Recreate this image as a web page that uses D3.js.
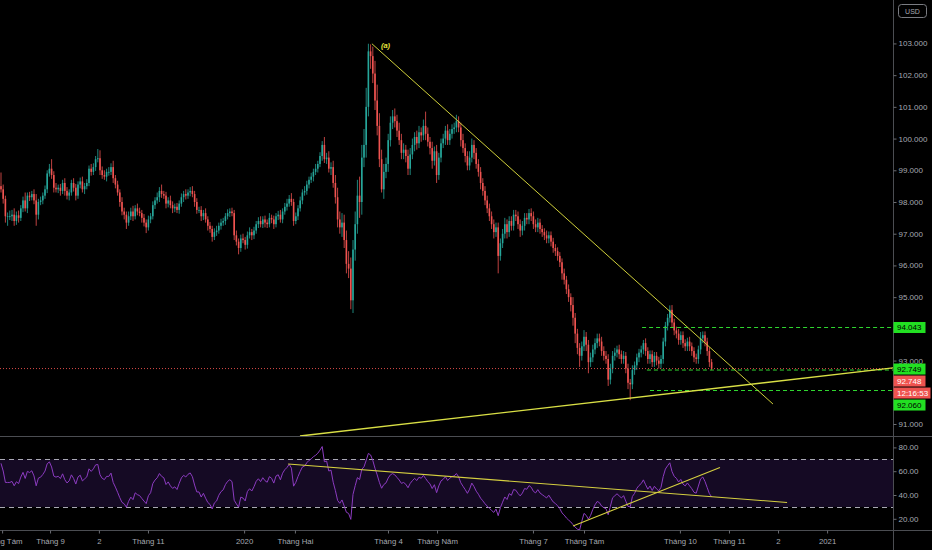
<!DOCTYPE html>
<html><head><meta charset="utf-8">
<script src="https://cdn.jsdelivr.net/npm/d3@7"></script>
<style>html,body{margin:0;padding:0;background:#000;overflow:hidden}svg{display:block}</style>
</head><body>
<svg id="c" width="932" height="550"></svg>
<script>
// ---- DATA (daily DXY) ----
const warmupCloses = [96.90,97.20,97.60,97.55,97.40,97.00,96.60,96.20,96.30,96.15,
  96.85,96.80,96.78,97.28,97.35,97.50,97.10,96.80,96.82,96.88,
  97.20,97.00,96.85,97.12,97.30,97.70,97.72,97.80,98.00,98.02,97.90,98.50];
const closes = [
  98.40,98.10,97.55,97.55,97.55,97.60,97.40,97.58,97.50,97.80,
  98.05,97.80,98.20,98.15,98.25,98.05,97.60,98.00,98.05,98.20,
  98.40,98.90,99.05,98.85,98.45,98.40,98.45,98.35,98.60,98.35,
  98.20,98.30,98.60,98.45,98.20,98.55,98.65,98.40,98.50,98.60,
  99.05,98.95,99.10,99.35,99.38,99.00,98.85,98.80,98.95,98.95,
  99.10,98.75,98.55,98.30,98.00,97.70,97.60,97.35,97.55,97.70,
  97.55,97.80,97.70,97.65,97.50,97.35,97.20,97.45,97.55,97.90,
  98.05,98.15,98.35,98.25,98.20,97.95,98.05,97.90,97.80,97.85,
  97.75,97.95,98.15,98.25,98.20,98.30,98.35,98.25,98.00,97.75,
  97.75,97.55,97.65,97.45,97.25,97.15,96.90,97.05,97.10,97.25,
  97.35,97.40,97.55,97.65,97.70,97.65,96.95,96.75,96.55,96.85,
  96.80,96.65,96.95,97.05,96.95,97.10,97.30,97.40,97.30,97.45,
  97.35,97.30,97.50,97.45,97.30,97.55,97.60,97.45,97.70,97.85,
  97.95,98.10,98.00,97.40,97.55,97.80,98.05,98.30,98.35,98.55,
  98.70,98.80,98.95,99.05,99.20,99.45,99.80,99.35,99.40,99.05,
  99.10,98.60,98.15,97.45,97.20,97.35,96.80,96.05,95.90,94.90,
  96.50,97.30,98.20,98.00,99.40,99.80,101.00,102.75,102.60,102.05,
  101.20,100.40,99.35,98.40,98.95,99.20,99.95,100.50,100.70,100.55,
  100.25,99.95,99.55,99.65,99.45,99.05,99.50,99.80,100.05,99.85,
  100.20,100.10,100.40,100.15,99.90,99.70,99.30,99.60,98.85,99.40,
  99.85,100.00,100.25,99.95,100.15,100.30,100.35,100.55,100.35,99.95,
  99.70,99.45,99.15,99.40,99.80,99.55,99.20,98.95,98.60,98.35,
  98.05,97.80,97.55,97.30,97.05,97.20,96.30,96.70,97.00,97.30,
  97.05,97.40,97.25,97.60,97.55,97.30,97.10,97.25,97.50,97.45,
  97.65,97.55,97.30,97.20,97.35,97.15,97.05,96.95,96.85,96.95,
  96.75,96.55,96.45,96.30,96.10,95.75,95.55,95.25,95.00,94.75,
  94.35,93.85,93.40,93.15,93.45,93.75,93.50,92.95,93.10,93.35,
  93.55,93.70,93.60,93.30,93.15,93.05,92.40,92.75,93.15,93.25,
  93.35,93.20,93.05,93.15,92.75,92.30,92.25,92.70,92.85,93.10,
  93.25,93.35,93.55,93.30,93.05,93.20,92.95,93.15,93.00,92.90,
  93.05,93.60,94.10,94.35,94.60,94.20,93.95,93.85,93.65,93.80,
  93.55,93.45,93.60,93.45,93.30,93.10,93.05,93.35,93.70,93.80,
  93.60,93.30,92.95,92.748];
// upper / lower wick length beyond the body, in hundredths
const hiWick = [
  43,15,10,12,18,15,20,12,15,10, 12,25,10,12,10,15,20,10,12,10,
  12,10,15,30,12,15,10,12,10,15, 12,10,10,15,12,10,12,15,10,12,
  10,15,12,10,29,25,12,15,10,15, 12,20,10,12,10,15,12,10,15,12,
  18,10,15,12,10,12,10,12,10,12, 10,15,12,20,10,12,10,15,12,10,
  12,10,12,10,15,10,12,15,10,12, 10,12,10,15,10,12,10,12,15,10,
  12,10,10,12,10,12,10,15,10,12, 15,10,12,15,10,12,10,12,15,10,
  12,10,15,10,12,10,12,15,10,12, 15,12,18,10,12,10,12,10,15,12,
  10,12,10,15,10,12,12,25,15,20, 15,20,25,30,25,30,25,30,40,35,
  30,40,50,60,40,50,60,24,22,30, 40,50,40,30,25,20,20,20,20,25,
  20,25,20,20,15,20,20,20,15,20, 20,15,20,45,20,15,20,15,20,15,
  15,15,15,20,15,15,15,20,15,15, 20,15,15,20,20,15,15,15,15,15,
  15,15,15,15,15,15,15,15,15,20, 15,15,15,15,15,15,15,15,15,15,
  13,15,15,15,15,12,12,12,15,12, 12,12,12,12,12,12,15,12,15,12,
  25,15,15,15,15,21,15,15,15,15, 15,15,15,15,15,15,15,15,15,15,
  12,15,12,15,12,15,12,15,12,12, 12,12,10,15,12,12,12,12,12,12,
  12,12,12,12,14,15,12,12,15,12, 12,12,12,15,12,12,12,12,20,12,
  12,12,12,10];
const loWick = [
  10,15,20,30,12,15,15,12,15,10, 12,10,15,12,10,12,35,15,10,12,
  10,12,10,12,15,10,12,15,10,15, 12,15,10,12,15,10,12,10,15,10,
  10,12,10,12,10,15,12,10,15,12, 10,15,12,10,15,12,15,20,10,12,
  15,10,12,10,15,12,18,10,12,10, 12,10,15,12,10,15,12,10,15,12,
  10,12,10,15,12,10,12,10,15,12, 10,15,12,10,15,12,15,10,12,10,
  12,10,12,10,12,10,15,12,20,12, 10,15,12,10,15,12,10,12,10,12,
  15,12,10,12,15,10,12,10,12,10, 12,10,12,15,10,12,10,12,10,12,
  12,10,15,10,12,10,15,12,15,12, 20,15,20,25,20,30,25,30,30,28,
  40,35,30,50,40,30,40,30,40,30, 30,30,25,10,30,20,25,20,20,20,
  20,15,20,20,20,20,20,15,20,20, 15,20,15,20,15,20,25,15,25,15,
  15,15,20,15,15,15,15,15,15,20, 15,20,15,15,15,20,15,15,20,15,
  15,15,15,15,20,15,55,15,15,15, 20,15,15,15,15,15,20,15,15,15,
  15,15,15,15,15,15,15,15,15,15, 15,15,15,15,15,20,15,15,15,20,
  25,30,20,35,15,15,20,35,15,15, 15,15,15,15,15,15,20,15,15,15,
  15,15,15,15,15,20,50,15,15,15, 15,15,15,15,15,15,15,15,15,15,
  15,15,15,15,15,15,15,15,15,15, 15,15,15,15,15,15,15,15,15,15,
  15,15,15,5];

// price labels that stay visible (92 sits under the price tags, 104 under the USD box)
const priceTicks = [91,93,94,95,96,97,98,99,100,101,102,103];
const rsiTicks = [20,40,60,80];
const rsiBand = [30,70];
const timeTickLabels = ["Tháng Tám","Tháng 9","2","Tháng 11","2020","Tháng Hai","Tháng 4","Tháng Năm","Tháng 7","Tháng Tám","Tháng 10","Tháng 11","2","2021"];
const timeTickBars = [0.5,22.3,44.5,66.8,110.5,133.6,175.9,198.2,241.8,265.0,308.6,330.9,353.2,375.5];
const levelPrices = [94.043, 92.749, 92.060];
const levelStartBars = [291.4, 293.6, 295.0];
const lastPrice = 92.748;
const countdown = "12:16:53";
const priceTrendA = [[168.6,102.99],[350.9,91.63]];
const priceTrendB = [[135.9,90.62],[405.5,92.77]];
const rsiTrendA = [[130.5,66.0],[357.3,33.7]];
const rsiTrendB = [[260.0,14.0],[326.8,63.1]];
const waveLabel = "(a)";
const currencyLabel = "USD";

// ---- LAYOUT ----
const W = 932, H = 550, plotR = 893, mainB = 436.5, rsiT = 437, rsiB = 530.5;
const FONT = "'Liberation Sans', Arial, sans-serif";
const TXT = "#a6a9b1";
const UP = "#26a69a", DOWN = "#ef5350";
const snap = v => Math.round(v) + 0.5;

const svg = d3.select("#c");
svg.append("rect").attr("width", W).attr("height", H).attr("fill", "#000");

const x = d3.scaleLinear().domain([0, 100]).range([1, 221]);
const y = d3.scaleLinear().domain([91, 98]).range([424, 202]);
const yr = d3.scaleLinear().domain([20, 80]).range([518.8, 447.4]);

const defs = svg.append("defs");
defs.append("clipPath").attr("id", "cm").append("rect").attr("x", 0).attr("y", 0).attr("width", plotR).attr("height", mainB);
defs.append("clipPath").attr("id", "cr").append("rect").attr("x", 0).attr("y", rsiT).attr("width", plotR).attr("height", rsiB - rsiT);

// ---- MAIN PANE ----
const gm = svg.append("g").attr("clip-path", "url(#cm)");
const bars = closes.map((c, i) => {
  const o = i ? closes[i - 1] : warmupCloses[warmupCloses.length - 1];
  return { i, o, c, h: Math.max(o, c) + (hiWick[i] || 10) / 100, l: Math.min(o, c) - (loWick[i] || 10) / 100 };
});
const cg = gm.append("g");
cg.selectAll("line.w").data(bars).join("line").attr("class", "w")
  .attr("x1", d => x(d.i)).attr("x2", d => x(d.i))
  .attr("y1", d => y(d.h)).attr("y2", d => y(d.l))
  .attr("stroke", d => d.c >= d.o ? UP : DOWN).attr("stroke-width", 0.8);
cg.selectAll("rect.b").data(bars).join("rect").attr("class", "b")
  .attr("x", d => x(d.i) - 0.8).attr("width", 1.6)
  .attr("y", d => y(Math.max(d.o, d.c)))
  .attr("height", d => Math.max(0.8, Math.abs(y(d.o) - y(d.c))))
  .attr("fill", d => d.c >= d.o ? UP : DOWN);

// current price dotted line
gm.append("line").attr("x1", 0).attr("x2", plotR).attr("y1", y(lastPrice)).attr("y2", y(lastPrice))
  .attr("stroke", DOWN).attr("stroke-width", 1).attr("stroke-dasharray", "1,2").attr("opacity", 0.9);

// horizontal levels
levelPrices.forEach((p, k) => {
  const ly = k === 1 ? y(p) + 1.5 : snap(y(p));
  gm.append("line").attr("x1", x(levelStartBars[k])).attr("x2", plotR).attr("y1", ly).attr("y2", ly)
    .attr("stroke", "#2fd62f").attr("stroke-width", 1).attr("stroke-dasharray", "4,3");
});

// trend lines
const lineP = d3.line().x(d => x(d[0])).y(d => y(d[1]));
gm.append("path").attr("d", lineP(priceTrendA)).attr("stroke", "#cfcf3a").attr("stroke-width", 1).attr("fill", "none");
gm.append("path").attr("d", lineP(priceTrendB)).attr("stroke", "#d9df45").attr("stroke-width", 1.4).attr("fill", "none");
gm.append("text").attr("x", x(priceTrendA[0][0]) + 9).attr("y", y(priceTrendA[0][1]) + 4)
  .attr("fill", "#e6e63c").attr("font-size", 7.5).attr("font-style", "italic").attr("font-weight", "bold")
  .attr("font-family", FONT).text(waveLabel);

// ---- RSI PANE ----
const gr = svg.append("g").attr("clip-path", "url(#cr)");
gr.append("rect").attr("x", 0).attr("width", plotR).attr("y", yr(rsiBand[1])).attr("height", yr(rsiBand[0]) - yr(rsiBand[1]))
  .attr("fill", "#150a24");
rsiBand.forEach(v => gr.append("line").attr("x1", 0).attr("x2", plotR).attr("y1", snap(yr(v))).attr("y2", snap(yr(v)))
  .attr("stroke", "#a9a9b3").attr("stroke-width", 1).attr("stroke-dasharray", "5,4"));

const all = warmupCloses.concat(closes);
const rsi = [];
let ag = 0, al = 0;
for (let k = 1; k < all.length; k++) {
  const d = all[k] - all[k - 1], g = Math.max(d, 0), l = Math.max(-d, 0);
  if (k <= 14) { ag += g / 14; al += l / 14; } else { ag = (ag * 13 + g) / 14; al = (al * 13 + l) / 14; }
  const idx = k - warmupCloses.length;
  if (k >= 14 && idx >= 0) rsi.push([idx, al === 0 ? 100 : 100 - 100 / (1 + ag / al)]);
}
gr.append("path").attr("d", d3.line().x(d => x(d[0])).y(d => yr(d[1]))(rsi))
  .attr("stroke", "#8c3cc0").attr("stroke-width", 1).attr("fill", "none");
const lineR = d3.line().x(d => x(d[0])).y(d => yr(d[1]));
gr.append("path").attr("d", lineR(rsiTrendA)).attr("stroke", "#d6d040").attr("stroke-width", 1.1).attr("fill", "none");
gr.append("path").attr("d", lineR(rsiTrendB)).attr("stroke", "#d6d040").attr("stroke-width", 1.1).attr("fill", "none");

// ---- FRAME ----
const border = "#4b4d52";
svg.append("line").attr("x1", 0).attr("x2", W).attr("y1", mainB).attr("y2", mainB).attr("stroke", border);
svg.append("line").attr("x1", 0).attr("x2", W).attr("y1", rsiB).attr("y2", rsiB).attr("stroke", border);
svg.append("line").attr("x1", plotR + 0.5).attr("x2", plotR + 0.5).attr("y1", 0).attr("y2", H).attr("stroke", border);

// ---- AXES ----
function styleAxis(g) {
  g.select(".domain").remove();
  g.selectAll("line").attr("stroke", "#6a6c72");
  g.selectAll("text").attr("fill", TXT).attr("font-size", 8).attr("font-family", FONT);
}
svg.append("g").attr("transform", `translate(${plotR + 0.5},0)`)
  .call(d3.axisRight(y).tickValues(priceTicks).tickFormat(d3.format(".3f")).tickSize(3).tickPadding(2)).call(styleAxis);
svg.append("g").attr("transform", `translate(${plotR + 0.5},0)`)
  .call(d3.axisRight(yr).tickValues(rsiTicks).tickFormat(d3.format(".2f")).tickSize(3).tickPadding(2)).call(styleAxis);
svg.append("g").attr("transform", `translate(0,${rsiB})`)
  .call(d3.axisBottom(x).tickValues(timeTickBars).tickFormat((d, k) => timeTickLabels[k]).tickSize(3).tickPadding(5)).call(styleAxis)
  .selectAll("text").attr("font-size", 7.8);

// USD box
svg.append("rect").attr("x", 898.5).attr("y", 4.5).attr("width", 28).attr("height", 13).attr("rx", 3)
  .attr("fill", "#000").attr("stroke", "#7a7c82");
svg.append("text").attr("x", 912.5).attr("y", 13.5).attr("text-anchor", "middle").attr("fill", TXT)
  .attr("font-size", 7).attr("font-family", FONT).text(currencyLabel);

// price labels on the axis
function tag(cy, text, bg, fg, w) {
  svg.append("rect").attr("x", plotR + 0.5).attr("y", cy - 5.5).attr("width", w).attr("height", 11).attr("fill", bg);
  svg.append("text").attr("x", plotR + 4).attr("y", cy + 3).attr("fill", fg).attr("font-size", 8)
    .attr("font-family", FONT).text(text);
}
const fmt3 = d3.format(".3f");
const baseY = y(levelPrices[1]) + 0.5;
tag(y(levelPrices[0]), fmt3(levelPrices[0]), "#22e022", "#000", 32);
tag(baseY, fmt3(levelPrices[1]), "#22e022", "#000", 32);
tag(baseY + 12, fmt3(lastPrice), DOWN, "#fff", 32);
tag(baseY + 24, countdown, DOWN, "#fff", 37);
tag(baseY + 36, fmt3(levelPrices[2]), "#22e022", "#000", 32);
</script>
</body></html>
